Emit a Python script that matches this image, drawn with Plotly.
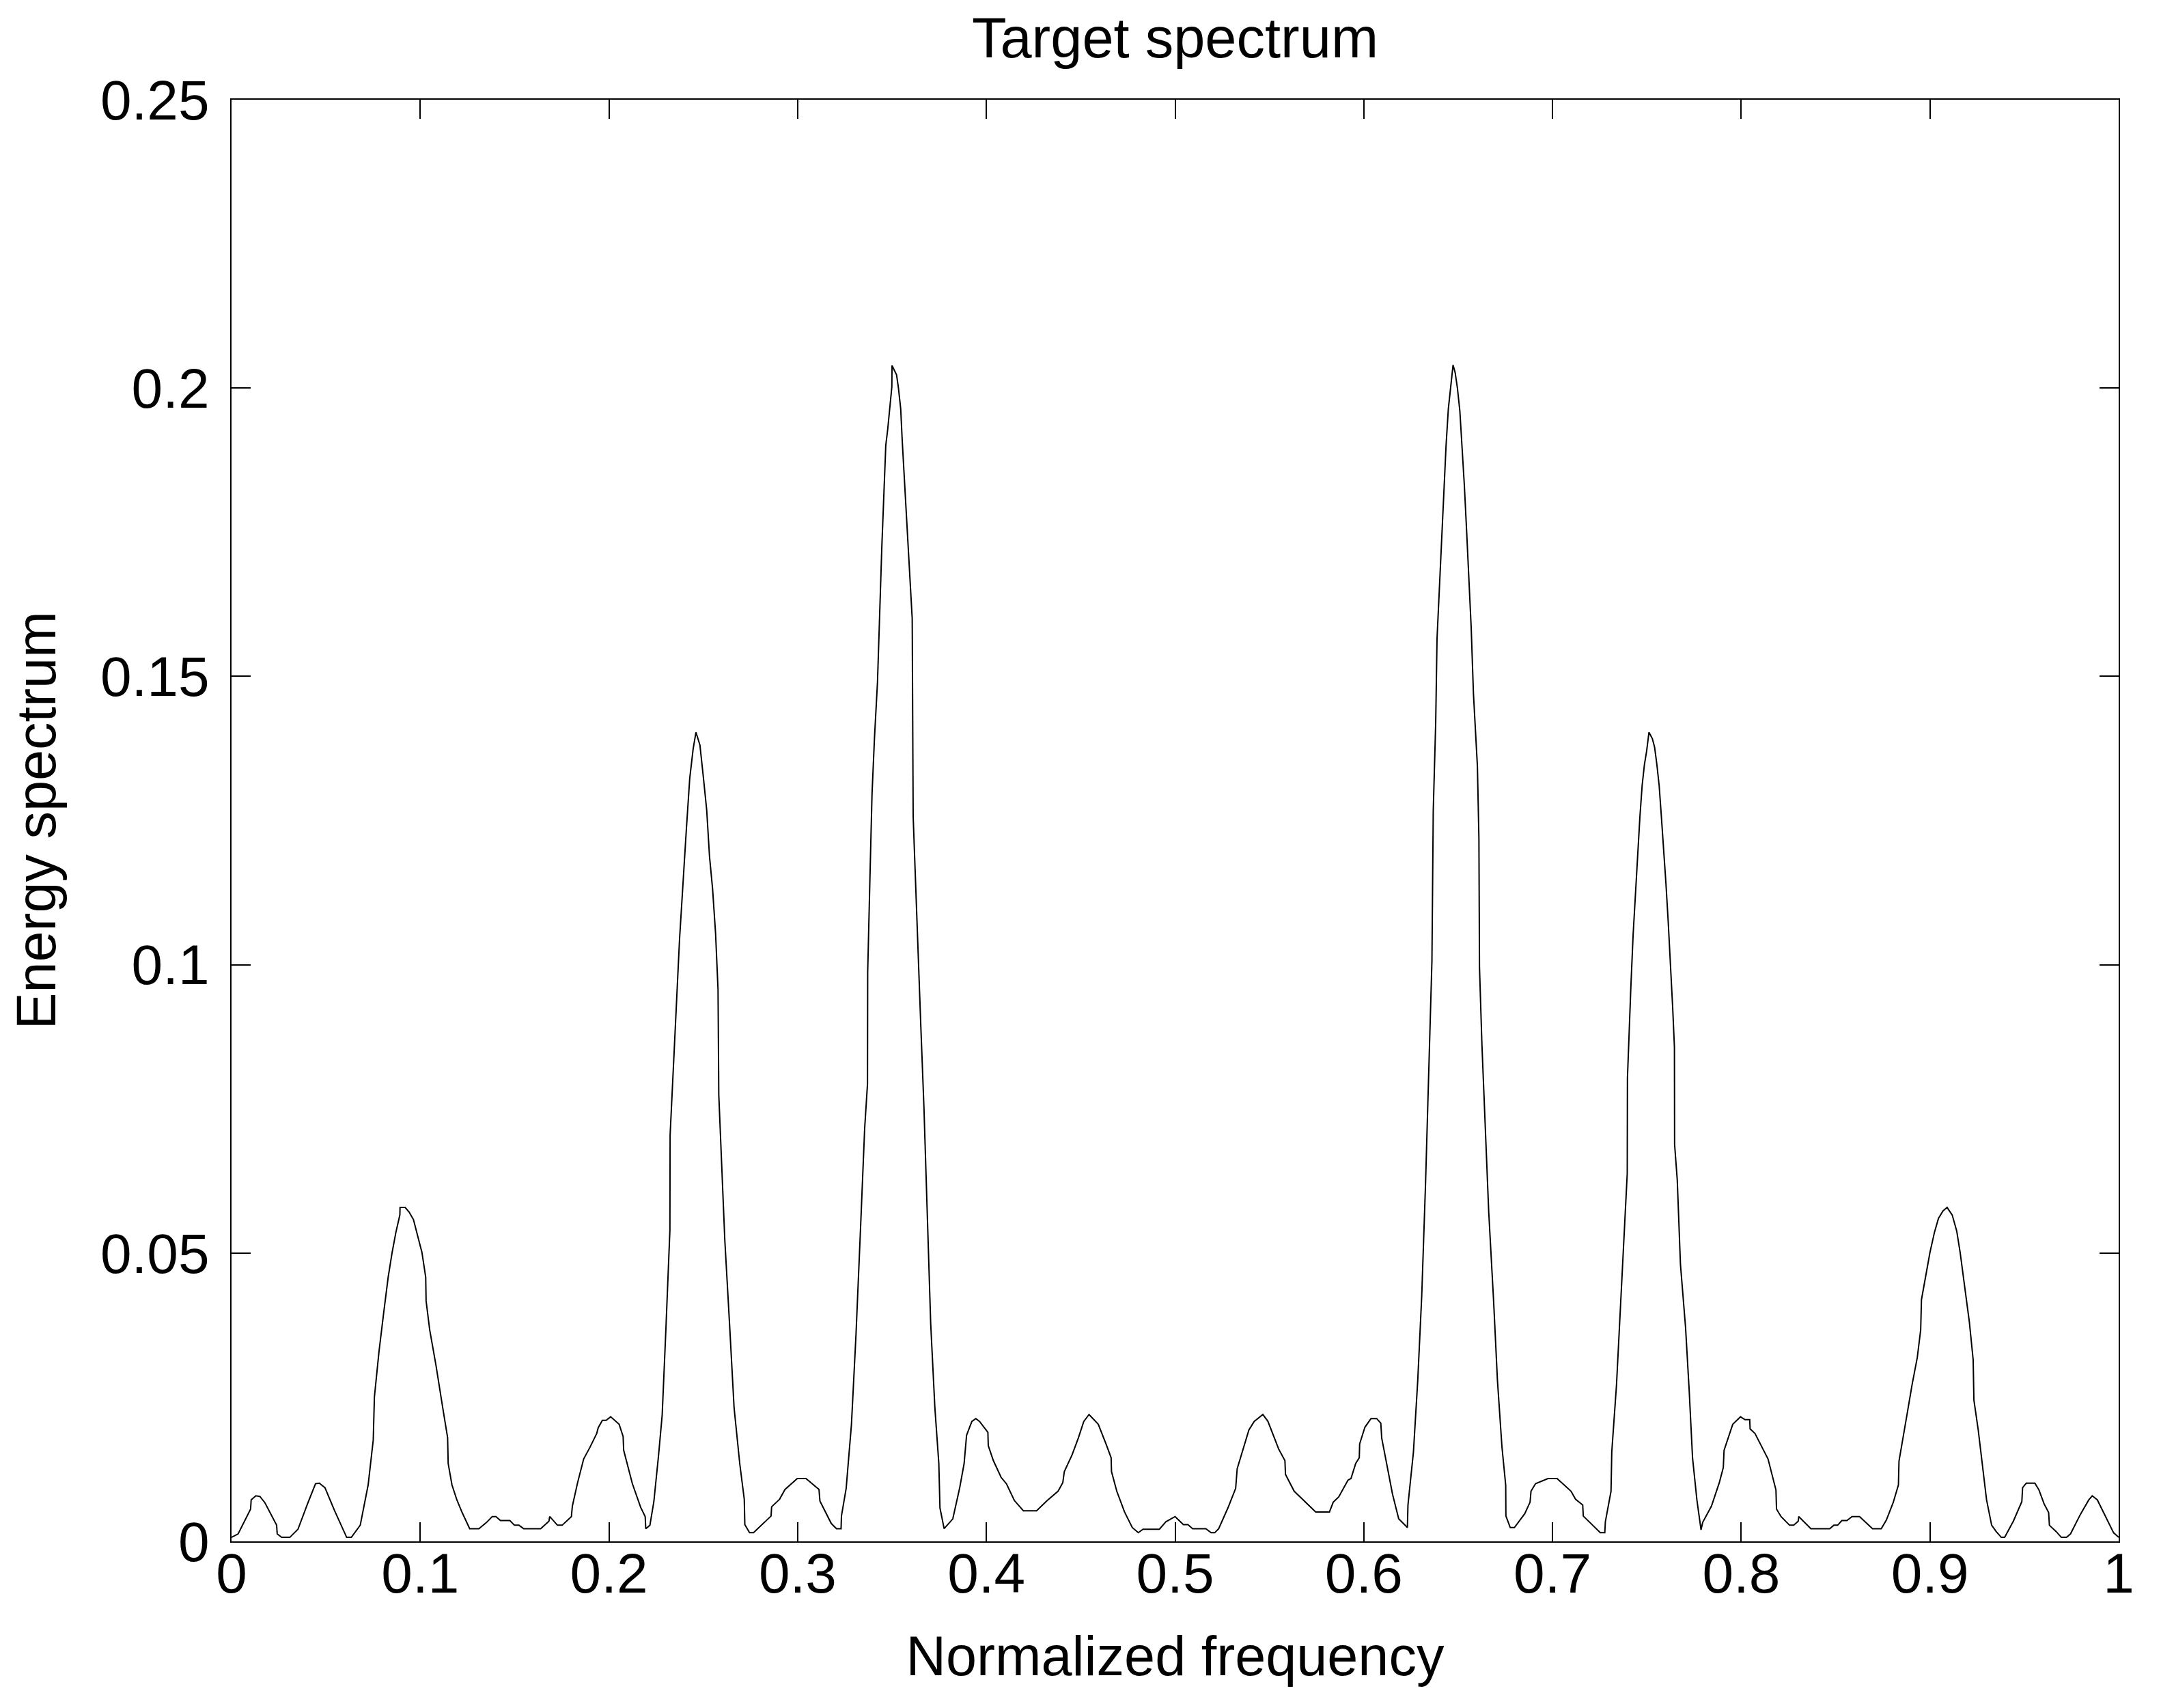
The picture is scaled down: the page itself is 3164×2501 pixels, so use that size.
import plotly.graph_objects as go

# normalized frequency sample points
freq = [
    0.0, 0.0035, 0.0101, 0.0104, 0.0129, 0.015, 0.0177, 0.0239, 0.0242, 0.0265,
    0.0309, 0.0352, 0.0405, 0.0445, 0.0465, 0.0495, 0.0545, 0.061, 0.0635, 0.0682,
    0.0724, 0.0751, 0.0757, 0.0781, 0.0805, 0.083, 0.0851, 0.0871, 0.0892, 0.0893,
    0.092, 0.0941, 0.0964, 0.0985, 0.1009, 0.1029, 0.1031, 0.105, 0.1083, 0.1119,
    0.1145, 0.1148, 0.1168, 0.1194, 0.1222, 0.1262, 0.1311, 0.1352, 0.1381, 0.1401,
    0.1425, 0.1475, 0.1499, 0.1523, 0.1548, 0.1638, 0.1682, 0.1686, 0.1727, 0.1752,
    0.1801, 0.1806, 0.1834, 0.1866, 0.1899, 0.1935, 0.1943, 0.1965, 0.1985, 0.2009,
    0.2054, 0.2075, 0.2078, 0.2124, 0.2168, 0.2192, 0.2195, 0.2217, 0.2238, 0.2263,
    0.2282, 0.2302, 0.2315, 0.2323, 0.2324, 0.2338, 0.2356, 0.2374, 0.2392, 0.241,
    0.2428, 0.2446, 0.2461, 0.2482, 0.25, 0.2518, 0.2533, 0.2549, 0.2565, 0.2578,
    0.2582, 0.2598, 0.2614, 0.2639, 0.2663, 0.2693, 0.2717, 0.272, 0.2745, 0.2766,
    0.2859, 0.2862, 0.2904, 0.2933, 0.2998, 0.3044, 0.3113, 0.3118, 0.3178, 0.3206,
    0.323, 0.3232, 0.3257, 0.3285, 0.3309, 0.3333, 0.3355, 0.337, 0.3371, 0.3383,
    0.3394, 0.3407, 0.3423, 0.3446, 0.3455, 0.3467, 0.3477, 0.3489, 0.3499, 0.35,
    0.351, 0.3524, 0.3534, 0.3546, 0.3554, 0.3566, 0.3576, 0.3585, 0.3607, 0.3612,
    0.3629, 0.364, 0.3653, 0.3669, 0.3686, 0.3705, 0.3727, 0.3748, 0.3754, 0.3776,
    0.3822, 0.3858, 0.3882, 0.3895, 0.3923, 0.3944, 0.3964, 0.4008, 0.401, 0.4037,
    0.4078, 0.4106, 0.4148, 0.4196, 0.4266, 0.4323, 0.438, 0.4405, 0.4413, 0.4454,
    0.4487, 0.4516, 0.4544, 0.4593, 0.4634, 0.4661, 0.4663, 0.4691, 0.4732, 0.4773,
    0.4805, 0.483, 0.4917, 0.4951, 0.5, 0.5044, 0.5068, 0.5093, 0.5163, 0.5191,
    0.521, 0.5231, 0.528, 0.5321, 0.5329, 0.5391, 0.5419, 0.5465, 0.5492, 0.5549,
    0.5582, 0.5585, 0.5631, 0.5745, 0.5818, 0.5838, 0.5867, 0.5916, 0.5932, 0.5957,
    0.5976, 0.5978, 0.6006, 0.6038, 0.6068, 0.609, 0.6095, 0.6128, 0.6152, 0.6185,
    0.6231, 0.6234, 0.6263, 0.6286, 0.6307, 0.6327, 0.6345, 0.6361, 0.6368, 0.6381,
    0.6388, 0.64, 0.6412, 0.6424, 0.6436, 0.6448, 0.646, 0.6473, 0.6484, 0.6496,
    0.6509, 0.6521, 0.6533, 0.6545, 0.6557, 0.6569, 0.6581, 0.6602, 0.661, 0.6613,
    0.6626, 0.6643, 0.6662, 0.6688, 0.6708, 0.6732, 0.6752, 0.6753, 0.6776, 0.6798,
    0.6853, 0.6881, 0.6886, 0.691, 0.6976, 0.7024, 0.7098, 0.7122, 0.716, 0.7163,
    0.7253, 0.7277, 0.728, 0.731, 0.7314, 0.7339, 0.7363, 0.7387, 0.7396, 0.7397,
    0.7405, 0.7415, 0.7427, 0.7439, 0.7451, 0.7463, 0.7475, 0.7487, 0.7499, 0.7511,
    0.7529, 0.7541, 0.7553, 0.7565, 0.7577, 0.7589, 0.7601, 0.7613, 0.7625, 0.7637,
    0.7646, 0.7647, 0.7661, 0.7678, 0.7705, 0.7724, 0.7742, 0.7765, 0.7787, 0.7796,
    0.7842, 0.7884, 0.7905, 0.7909, 0.7955, 0.7996, 0.802, 0.8045, 0.8047, 0.8073,
    0.8142, 0.8184, 0.8187, 0.8211, 0.8256, 0.8278, 0.8302, 0.8305, 0.8369, 0.8469,
    0.8491, 0.8511, 0.8533, 0.856, 0.8587, 0.8627, 0.8696, 0.8742, 0.8769, 0.8805,
    0.8833, 0.8836, 0.8878, 0.8905, 0.8933, 0.8951, 0.8955, 0.8978, 0.9, 0.9024,
    0.9045, 0.9069, 0.9091, 0.9118, 0.9142, 0.916, 0.9187, 0.9209, 0.9229, 0.9233,
    0.9256, 0.9278, 0.93, 0.9327, 0.9351, 0.9378, 0.9396, 0.9442, 0.9487, 0.9491,
    0.9511, 0.9556, 0.9578, 0.9605, 0.9629, 0.9633, 0.9669, 0.9696, 0.9724, 0.9745,
    0.9796, 0.9842, 0.986, 0.9887, 0.9933, 0.9973, 1.0,
]

# energy spectrum values at those points
energy = [
    0.0007, 0.0013, 0.0056, 0.0072, 0.0079, 0.0078, 0.0067, 0.0028, 0.0013, 0.0007,
    0.0007, 0.0021, 0.0067, 0.0100, 0.0101, 0.0093, 0.0054, 0.0007, 0.0007, 0.0028,
    0.0098, 0.0176, 0.0250, 0.0328, 0.0393, 0.0458, 0.0501, 0.0536, 0.0566, 0.0579,
    0.0579, 0.0571, 0.0558, 0.0530, 0.0501, 0.0458, 0.0417, 0.0367, 0.0306, 0.0232,
    0.0180, 0.0135, 0.0098, 0.0072, 0.0050, 0.0022, 0.0022, 0.0033, 0.0043, 0.0043,
    0.0036, 0.0036, 0.0028, 0.0028, 0.0022, 0.0022, 0.0035, 0.0043, 0.0028, 0.0028,
    0.0043, 0.0061, 0.0102, 0.0143, 0.0163, 0.0187, 0.0197, 0.0210, 0.0210, 0.0216,
    0.0203, 0.0182, 0.0158, 0.0100, 0.0059, 0.0043, 0.0022, 0.0028, 0.0069, 0.0150,
    0.0219, 0.0370, 0.0480, 0.0540, 0.0704, 0.0806, 0.0921, 0.1044, 0.1146, 0.1234,
    0.1323, 0.1374, 0.1403, 0.1381, 0.1326, 0.1268, 0.1187, 0.1132, 0.1054, 0.0957,
    0.0774, 0.0638, 0.0522, 0.0377, 0.0232, 0.0135, 0.0073, 0.0029, 0.0015, 0.0015,
    0.0044, 0.0060, 0.0073, 0.0090, 0.0109, 0.0109, 0.0090, 0.0070, 0.0031, 0.0022,
    0.0022, 0.0044, 0.0092, 0.0203, 0.0358, 0.0542, 0.0716, 0.0793, 0.0987, 0.1151,
    0.1296, 0.1393, 0.1490, 0.1725, 0.1810, 0.1901, 0.1928, 0.1968, 0.2002, 0.2039,
    0.2033, 0.2023, 0.2000, 0.1964, 0.1909, 0.1842, 0.1782, 0.1725, 0.1600, 0.1257,
    0.1103, 0.0987, 0.0890, 0.0754, 0.0571, 0.0377, 0.0232, 0.0135, 0.0058, 0.0022,
    0.0039, 0.0092, 0.0135, 0.0184, 0.0208, 0.0213, 0.0208, 0.0189, 0.0166, 0.0140,
    0.0111, 0.0100, 0.0071, 0.0053, 0.0053, 0.0071, 0.0087, 0.0102, 0.0121, 0.0150,
    0.0179, 0.0208, 0.0220, 0.0203, 0.0169, 0.0145, 0.0121, 0.0087, 0.0051, 0.0024,
    0.0015, 0.0021, 0.0021, 0.0034, 0.0043, 0.0029, 0.0029, 0.0022, 0.0022, 0.0015,
    0.0015, 0.0022, 0.0058, 0.0092, 0.0126, 0.0193, 0.0208, 0.0220, 0.0208, 0.0160,
    0.0140, 0.0116, 0.0087, 0.0051, 0.0051, 0.0068, 0.0077, 0.0106, 0.0109, 0.0135,
    0.0145, 0.0169, 0.0198, 0.0213, 0.0213, 0.0205, 0.0179, 0.0121, 0.0082, 0.0039,
    0.0024, 0.0063, 0.0155, 0.0280, 0.0426, 0.0619, 0.0812, 0.1006, 0.1267, 0.1420,
    0.1565, 0.1652, 0.1743, 0.1830, 0.1901, 0.1964, 0.2000, 0.2040, 0.2027, 0.2000,
    0.1960, 0.1901, 0.1830, 0.1751, 0.1664, 0.1585, 0.1470, 0.1344, 0.1219, 0.0996,
    0.0861, 0.0716, 0.0571, 0.0416, 0.0280, 0.0164, 0.0097, 0.0044, 0.0024, 0.0024,
    0.0048, 0.0068, 0.0087, 0.0100, 0.0109, 0.0109, 0.0087, 0.0073, 0.0063, 0.0044,
    0.0015, 0.0015, 0.0034, 0.0087, 0.0155, 0.0271, 0.0426, 0.0571, 0.0638, 0.0803,
    0.0882, 0.0960, 0.1051, 0.1123, 0.1196, 0.1256, 0.1311, 0.1347, 0.1371, 0.1403,
    0.1392, 0.1377, 0.1347, 0.1311, 0.1256, 0.1202, 0.1141, 0.1075, 0.1002, 0.0924,
    0.0857, 0.0688, 0.0627, 0.0480, 0.0371, 0.0263, 0.0145, 0.0072, 0.0020, 0.0033,
    0.0061, 0.0102, 0.0128, 0.0158, 0.0203, 0.0216, 0.0211, 0.0211, 0.0195, 0.0187,
    0.0143, 0.0089, 0.0056, 0.0043, 0.0028, 0.0028, 0.0035, 0.0043, 0.0022, 0.0022,
    0.0028, 0.0028, 0.0036, 0.0036, 0.0043, 0.0043, 0.0022, 0.0022, 0.0037, 0.0067,
    0.0098, 0.0139, 0.0219, 0.0271, 0.0319, 0.0367, 0.0419, 0.0462, 0.0501, 0.0536,
    0.0560, 0.0573, 0.0579, 0.0566, 0.0538, 0.0501, 0.0436, 0.0380, 0.0315, 0.0245,
    0.0193, 0.0132, 0.0072, 0.0028, 0.0017, 0.0007, 0.0007, 0.0035, 0.0069, 0.0093,
    0.0101, 0.0101, 0.0089, 0.0065, 0.0050, 0.0028, 0.0017, 0.0007, 0.0007, 0.0013,
    0.0046, 0.0072, 0.0079, 0.0072, 0.0041, 0.0015, 0.0007,
]

x_ticks = [0, 0.1, 0.2, 0.3, 0.4, 0.5, 0.6, 0.7, 0.8, 0.9, 1]
x_tick_text = ["0", "0.1", "0.2", "0.3", "0.4", "0.5", "0.6", "0.7", "0.8", "0.9", "1"]
y_ticks = [0, 0.05, 0.1, 0.15, 0.2, 0.25]
y_tick_text = ["0", "0.05", "0.1", "0.15", "0.2", "0.25"]

FONT = "Liberation Sans, Arial, Helvetica, sans-serif"

fig = go.Figure()
fig.add_trace(go.Scatter(
    x=freq, y=energy,
    mode="lines",
    line=dict(color="black", width=2),
    showlegend=False,
))

axis_style = dict(
    showline=True, linecolor="black", linewidth=2, mirror="ticks",
    ticks="inside", ticklen=28, tickwidth=1.5, tickcolor="black",
    showgrid=False, zeroline=False,
    tickfont=dict(family=FONT, size=82, color="black"),
)

# the page body adds an 8px offset, so margins are shifted to compensate
fig.update_layout(
    width=3164, height=2501,
    paper_bgcolor="white", plot_bgcolor="white",
    margin=dict(l=331, r=70, t=138, b=252),
    font=dict(family=FONT, size=81, color="black"),
    title=dict(
        text="Target spectrum", x=0.5, xref="paper",
        y=1 - 47 / 2501, yref="container", yanchor="middle",
        font=dict(family=FONT, size=83, color="black"),
    ),
)
fig.update_xaxes(
    range=[0, 1], tickvals=x_ticks, ticktext=x_tick_text,
    title=dict(text="Normalized frequency", standoff=48,
               font=dict(family=FONT, size=81, color="black")),
    automargin=False, ticklabelstandoff=-25,
    **axis_style,
)
fig.update_yaxes(
    range=[0, 0.25], tickvals=y_ticks, ticktext=y_tick_text,
    title=dict(text="Energy spectrum", standoff=60,
               font=dict(family=FONT, size=81, color="black")),
    automargin=False, ticklabelstandoff=14,
    **axis_style,
)

fig.write_html("out.html")
